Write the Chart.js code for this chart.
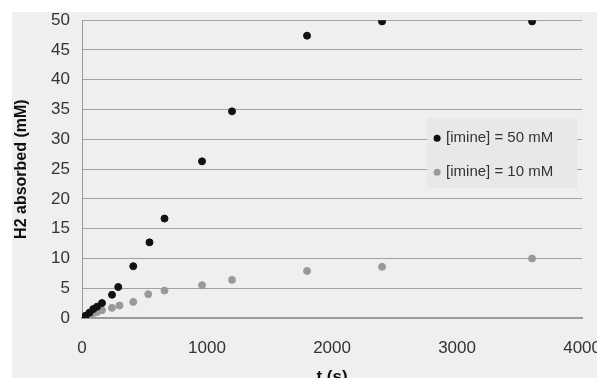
<!DOCTYPE html>
<html>
<head>
<meta charset="utf-8">
<script src="https://cdn.jsdelivr.net/npm/chart.js@4/dist/chart.umd.min.js"></script>
<style>
  html, body { margin: 0; padding: 0; background: #fff; overflow: hidden; }
  #wrap { position: absolute; left: 12px; top: 12px; width: 585px; height: 366px; background: #efefef; overflow: hidden; }
  #myChart { margin-top: -14px; display: block; }
</style>
</head>
<body>
<div id="wrap"><canvas id="myChart" width="601" height="394"></canvas></div>
<script>
// time points (s)
const times50 = [0, 30, 60, 90, 120, 160, 240, 290, 410, 540, 660, 960, 1200, 1800, 2400, 3600];
const h2_50 = [0, 0.4, 0.9, 1.5, 1.9, 2.5, 3.9, 5.2, 8.7, 12.7, 16.7, 26.3, 34.7, 47.4, 49.8, 49.8];
const times10 = [0, 30, 60, 90, 120, 160, 240, 300, 410, 530, 660, 960, 1200, 1800, 2400, 3600];
const h2_10 = [0, 0.2, 0.5, 0.8, 1.0, 1.3, 1.7, 2.1, 2.7, 4.0, 4.6, 5.5, 6.4, 7.9, 8.6, 10.0];
const xTicks = [0, 1000, 2000, 3000, 4000];
const yTicks = [0, 5, 10, 15, 20, 25, 30, 35, 40, 45, 50];

const toPts = (xs, ys) => xs.map((x, i) => ({ x: x, y: ys[i] }));

// legend drawn inside the plot, right side
const boxLegend = {
    id: 'boxLegend',
    afterDraw(chart) {
        const c = chart.ctx;
        const a = chart.chartArea;
        const x0 = a.right - 155, y0 = a.top + 98;
        c.save();
        c.fillStyle = '#e8e8e8';
        c.fillRect(x0, y0, 150, 70);
        c.font = '15px "Liberation Sans", Arial, sans-serif';
        c.textBaseline = 'middle';
        chart.data.datasets.forEach((ds, i) => {
            const y = y0 + 20 + i * 34;
            c.fillStyle = ds.backgroundColor;
            c.beginPath();
            c.arc(x0 + 10, y, 3.5, 0, Math.PI * 2);
            c.fill();
            c.fillStyle = '#333';
            c.fillText(ds.label, x0 + 19, y);
        });
        c.restore();
    }
};

new Chart(document.getElementById('myChart'), {
    type: 'scatter',
    data: {
        datasets: [{
            label: '[imine] = 50 mM',
            data: toPts(times50, h2_50),
            backgroundColor: '#111',
            borderColor: '#111',
            pointRadius: 3.5
        },
        {
            label: '[imine] = 10 mM',
            data: toPts(times10, h2_10),
            backgroundColor: '#999',
            borderColor: '#999',
            pointRadius: 3.5
        }]
    },
    options: {
        responsive: false,
        animation: false,
        layout: { padding: { top: 0, right: 0, left: 0, bottom: 0 } },
        plugins: { legend: { display: false }, tooltip: { enabled: false } },
        scales: {
            x: {
                type: 'linear',
                min: 0,
                max: 4000,
                afterBuildTicks: (s) => { s.ticks = xTicks.map(v => ({ value: v })); },
                afterFit: (s) => { s.height = 74; },
                grid: { display: false },
                border: { color: '#9a9a9a', width: 2 },
                ticks: { color: '#333', font: { size: 17, family: '"Liberation Sans", Arial' }, padding: 12, callback: (v) => String(v) },
                title: { display: true, text: 't (s)', color: '#111', font: { size: 17, weight: 'bold', family: '"Liberation Sans", Arial' }, padding: { top: 6 } }
            },
            y: {
                min: 0,
                max: 50,
                afterBuildTicks: (s) => { s.ticks = yTicks.map(v => ({ value: v })); },
                afterFit: (s) => { s.width = 70; },
                grid: { color: '#a2a2a2', drawTicks: false },
                border: { color: '#9a9a9a', width: 1 },
                ticks: { color: '#333', font: { size: 17, family: '"Liberation Sans", Arial' }, padding: 12 },
                title: { display: true, text: 'H2 absorbed (mM)', color: '#111', font: { size: 16, weight: 'bold', family: '"Liberation Sans", Arial' }, padding: 0 }
            }
        }
    },
    plugins: [boxLegend]
});
</script>
</body>
</html>
